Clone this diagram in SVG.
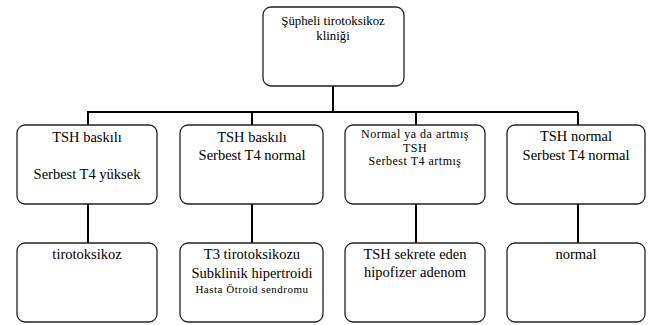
<svg xmlns="http://www.w3.org/2000/svg" width="648" height="325" viewBox="0 0 648 325">
<style>
.box{fill:#fff;stroke:#222;stroke-width:1.3}
.t{font-family:"Liberation Serif","Times New Roman",serif;font-size:14.5px;fill:#000;text-anchor:middle}
.s{font-size:12px;letter-spacing:0.5px}
.xs{font-size:11px;letter-spacing:0.5px}
.r{font-size:12.8px}
.c{stroke:#000;stroke-width:2;fill:none}
</style>
<rect width="648" height="325" fill="#fff"/>
<g id="connectors">
<line class="c" x1="333" y1="86" x2="333" y2="112"/>
<line class="c" x1="87" y1="112" x2="578" y2="112"/>
<line class="c" x1="88" y1="112" x2="88" y2="125"/>
<line class="c" x1="252" y1="112" x2="252" y2="125"/>
<line class="c" x1="416" y1="112" x2="416" y2="125"/>
<line class="c" x1="578" y1="112" x2="578" y2="125"/>
<line class="c" x1="88" y1="204" x2="88" y2="243"/>
<line class="c" x1="252" y1="204" x2="252" y2="243"/>
<line class="c" x1="416" y1="204" x2="416" y2="243"/>
<line class="c" x1="578" y1="204" x2="578" y2="243"/>
</g>
<g id="root">
<rect class="box" x="263" y="7" width="141" height="79" rx="8"/>
<text class="t r" x="333" y="25">Şüpheli tirotoksikoz</text>
<text class="t r" x="333" y="40">kliniği</text>
</g>
<g id="n1">
<rect class="box" x="17" y="125" width="140" height="79" rx="8"/>
<text class="t" x="87" y="142">TSH baskılı</text>
<text class="t" x="87" y="179">Serbest T4 yüksek</text>
</g>
<g id="n2">
<rect class="box" x="180" y="125" width="143" height="79" rx="8"/>
<text class="t" x="252" y="142">TSH baskılı</text>
<text class="t" x="252" y="160">Serbest T4 normal</text>
</g>
<g id="n3">
<rect class="box" x="345" y="125" width="140" height="79" rx="8"/>
<text class="t s" x="415" y="138">Normal ya da artmış</text>
<text class="t s" x="415" y="152">TSH</text>
<text class="t s" x="415" y="165">Serbest T4 artmış</text>
</g>
<g id="n4">
<rect class="box" x="507" y="125" width="138" height="79" rx="8"/>
<text class="t" x="576" y="141">TSH normal</text>
<text class="t" x="576" y="160">Serbest T4 normal</text>
</g>
<g id="m1">
<rect class="box" x="17" y="243" width="140" height="79" rx="8"/>
<text class="t" x="87" y="259">tirotoksikoz</text>
</g>
<g id="m2">
<rect class="box" x="180" y="243" width="143" height="79" rx="8"/>
<text class="t" x="252" y="259">T3 tirotoksikozu</text>
<text class="t" x="252" y="278">Subklinik hipertroidi</text>
<text class="t xs" x="252" y="293">Hasta Ötroid sendromu</text>
</g>
<g id="m3">
<rect class="box" x="345" y="243" width="140" height="79" rx="8"/>
<text class="t" x="415" y="259">TSH sekrete eden</text>
<text class="t" x="415" y="277">hipofizer adenom</text>
</g>
<g id="m4">
<rect class="box" x="507" y="243" width="138" height="79" rx="8"/>
<text class="t" x="576" y="259">normal</text>
</g>
</svg>
